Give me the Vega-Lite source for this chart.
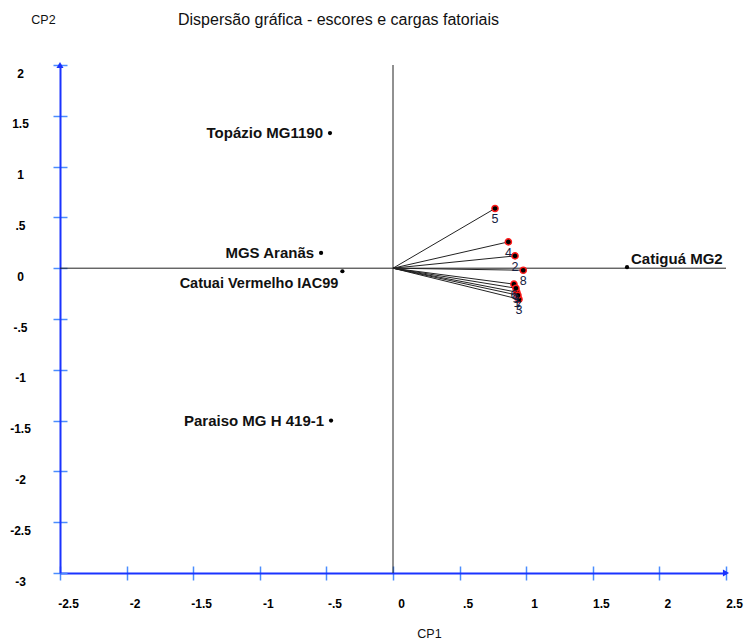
{
  "$schema": "https://vega.github.io/schema/vega-lite/v6.json",
  "width": 666,
  "height": 508,
  "autosize": {"type": "none"},
  "padding": {"left": 60, "top": 65, "right": 21, "bottom": 71},
  "background": "white",
  "config": {"view": {"stroke": null}, "font": "Liberation Sans"},
  "title": {
    "text": "Dispersão gráfica - escores e cargas fatoriais",
    "anchor": "start",
    "frame": "group",
    "dx": 118,
    "dy": 15,
    "offset": 0,
    "fontSize": 16,
    "fontWeight": "normal",
    "font": "Liberation Sans",
    "color": "#111111"
  },
  "datasets": {
    "scores": [
      {"name": "Topázio MG1190", "cp1": -0.473, "cp2": 1.33},
      {"name": "MGS Aranãs", "cp1": -0.54, "cp2": 0.15},
      {"name": "Catuai Vermelho IAC99", "cp1": -0.38, "cp2": -0.03},
      {"name": "Paraiso MG H 419-1", "cp1": -0.465, "cp2": -1.5},
      {"name": "Catiguá MG2", "cp1": 1.757, "cp2": 0.01}
    ],
    "loadings": [
      {"var": "1", "cp1": 0.93, "cp2": -0.236},
      {"var": "2", "cp1": 0.916, "cp2": 0.121},
      {"var": "3", "cp1": 0.946, "cp2": -0.305},
      {"var": "4", "cp1": 0.866, "cp2": 0.259},
      {"var": "5", "cp1": 0.766, "cp2": 0.588},
      {"var": "6", "cp1": 0.908, "cp2": -0.157},
      {"var": "7", "cp1": 0.938, "cp2": -0.266},
      {"var": "8", "cp1": 0.978, "cp2": -0.02},
      {"var": "9", "cp1": 0.923, "cp2": -0.197}
    ]
  },
  "resolve": {"axis": {"x": "independent", "y": "independent"}},
  "layer": [
    {
      "data": {"values": [{"v": 0}]},
      "mark": {"type": "rule", "color": "#222222", "strokeWidth": 1},
      "encoding": {
        "y": {"field": "v", "type": "quantitative", "scale": {"domain": [-3, 2], "nice": false, "zero": false}, "axis": null}
      }
    },
    {
      "data": {"values": [{"v": 0}]},
      "mark": {"type": "rule", "color": "#222222", "strokeWidth": 1},
      "encoding": {
        "x": {"field": "v", "type": "quantitative", "scale": {"domain": [-2.5, 2.5], "nice": false, "zero": false}, "axis": null}
      }
    },
    {
      "data": {"name": "loadings"},
      "mark": {"type": "rule", "color": "#222222", "strokeWidth": 1},
      "encoding": {
        "x": {"field": "cp1", "type": "quantitative", "scale": {"domain": [-2.5, 2.5], "nice": false, "zero": false}, "axis": null},
        "y": {"field": "cp2", "type": "quantitative", "scale": {"domain": [-3, 2], "nice": false, "zero": false}, "axis": null},
        "x2": {"datum": 0},
        "y2": {"datum": 0}
      }
    },
    {
      "data": {"values": [{"x": 2.5, "y": -3}]},
      "mark": {"type": "point", "shape": "triangle-right", "filled": true, "color": "#1a33ff", "size": 50, "opacity": 1},
      "encoding": {
        "x": {"field": "x", "type": "quantitative", "scale": {"domain": [-2.5, 2.5], "nice": false, "zero": false}, "axis": null},
        "y": {"field": "y", "type": "quantitative", "scale": {"domain": [-3, 2], "nice": false, "zero": false}, "axis": null}
      }
    },
    {
      "data": {"values": [{"x": -2.5, "y": 2}]},
      "mark": {"type": "point", "shape": "triangle-up", "filled": true, "color": "#1a33ff", "size": 50, "opacity": 1},
      "encoding": {
        "x": {"field": "x", "type": "quantitative", "scale": {"domain": [-2.5, 2.5], "nice": false, "zero": false}, "axis": null},
        "y": {"field": "y", "type": "quantitative", "scale": {"domain": [-3, 2], "nice": false, "zero": false}, "axis": null}
      }
    },
    {
      "data": {"name": "loadings"},
      "mark": {"type": "point", "filled": true, "fill": "#000000", "stroke": "#ff1a1a", "strokeWidth": 1.5, "size": 38, "opacity": 1},
      "encoding": {
        "x": {"field": "cp1", "type": "quantitative", "scale": {"domain": [-2.5, 2.5], "nice": false, "zero": false},
          "axis": {"orient": "bottom", "values": [-2.5, -2, -1.5, -1, -0.5, 0, 0.5, 1, 1.5, 2, 2.5], "offset": -7, "domain": false, "labels": false, "ticks": true, "tickSize": 7, "tickColor": "#4a8cff", "tickWidth": 1.5, "grid": false, "title": null}},
        "y": {"field": "cp2", "type": "quantitative", "scale": {"domain": [-3, 2], "nice": false, "zero": false},
          "axis": {"orient": "left", "values": [2, 1.5, 1, 0.5, 0, -0.5, -1, -1.5, -2, -2.5, -3], "offset": -7, "domain": false, "labels": false, "ticks": true, "tickSize": 7, "tickColor": "#4a8cff", "tickWidth": 1.5, "grid": false, "title": null}}
      }
    },
    {
      "data": {"name": "loadings"},
      "mark": {"type": "text", "dy": 11, "fontSize": 12.5, "color": "#142040", "font": "Liberation Sans"},
      "encoding": {
        "x": {"field": "cp1", "type": "quantitative", "scale": {"domain": [-2.5, 2.5], "nice": false, "zero": false}, "axis": null},
        "y": {"field": "cp2", "type": "quantitative", "scale": {"domain": [-3, 2], "nice": false, "zero": false}, "axis": null},
        "text": {"field": "var"}
      }
    },
    {
      "data": {"name": "scores"},
      "mark": {"type": "circle", "color": "#000000", "size": 18, "opacity": 1},
      "encoding": {
        "x": {"field": "cp1", "type": "quantitative", "scale": {"domain": [-2.5, 2.5], "nice": false, "zero": false},
          "axis": {"orient": "bottom", "values": [-2.5, -2, -1.5, -1, -0.5, 0, 0.5, 1, 1.5, 2, 2.5],
            "labelExpr": "replace(replace(format(datum.value, '~g'), '−', '-'), '0.', '.')",
            "domainColor": "#1a33ff", "domainWidth": 2, "tickColor": "#4a8cff", "tickWidth": 1.5, "tickSize": 7,
            "labelAlign": "center", "labelBaseline": "middle", "labelPadding": 23, "labelOffset": 8,
            "labelFontSize": 12, "labelFontWeight": "bold", "labelColor": "#000000", "labelFont": "Liberation Sans",
            "labelOverlap": false, "labelFlush": false, "labelBound": false, "grid": false,
            "title": "CP1", "titleX": 369, "titleY": 60, "titleAlign": "center", "titleBaseline": "middle",
            "titleFontSize": 12.5, "titleFontWeight": "normal", "titleColor": "#111111", "titleFont": "Liberation Sans"}},
        "y": {"field": "cp2", "type": "quantitative", "scale": {"domain": [-3, 2], "nice": false, "zero": false},
          "axis": {"orient": "left", "values": [2, 1.5, 1, 0.5, 0, -0.5, -1, -1.5, -2, -2.5, -3],
            "labelExpr": "replace(replace(format(datum.value, '~g'), '−', '-'), '0.', '.')",
            "domainColor": "#1a33ff", "domainWidth": 2, "tickColor": "#4a8cff", "tickWidth": 1.5, "tickSize": 7,
            "labelAlign": "center", "labelBaseline": "middle", "labelPadding": 33, "labelOffset": 8,
            "labelFontSize": 12, "labelFontWeight": "bold", "labelColor": "#000000", "labelFont": "Liberation Sans",
            "labelOverlap": false, "labelFlush": false, "labelBound": false, "grid": false,
            "title": "CP2", "titleAngle": 0, "titleX": -17, "titleY": -46, "titleAlign": "center", "titleBaseline": "middle",
            "titleFontSize": 12.5, "titleFontWeight": "normal", "titleColor": "#111111", "titleFont": "Liberation Sans"}}
      }
    },
    {
      "data": {"name": "scores"},
      "transform": [{"filter": "datum.name !== 'Catuai Vermelho IAC99' && datum.name !== 'Catiguá MG2'"}],
      "mark": {"type": "text", "align": "right", "baseline": "middle", "dx": -7, "fontSize": 15, "fontWeight": "bold", "color": "#111111", "font": "Liberation Sans"},
      "encoding": {
        "x": {"field": "cp1", "type": "quantitative", "scale": {"domain": [-2.5, 2.5], "nice": false, "zero": false}, "axis": null},
        "y": {"field": "cp2", "type": "quantitative", "scale": {"domain": [-3, 2], "nice": false, "zero": false}, "axis": null},
        "text": {"field": "name"}
      }
    },
    {
      "data": {"name": "scores"},
      "transform": [{"filter": "datum.name === 'Catuai Vermelho IAC99'"}],
      "mark": {"type": "text", "align": "right", "baseline": "middle", "dx": -4, "dy": 13, "fontSize": 14.5, "fontWeight": "bold", "color": "#111111", "font": "Liberation Sans"},
      "encoding": {
        "x": {"field": "cp1", "type": "quantitative", "scale": {"domain": [-2.5, 2.5], "nice": false, "zero": false}, "axis": null},
        "y": {"field": "cp2", "type": "quantitative", "scale": {"domain": [-3, 2], "nice": false, "zero": false}, "axis": null},
        "text": {"field": "name"}
      }
    },
    {
      "data": {"name": "scores"},
      "transform": [{"filter": "datum.name === 'Catiguá MG2'"}],
      "mark": {"type": "text", "align": "left", "baseline": "middle", "dx": 4, "dy": -8, "fontSize": 15, "fontWeight": "bold", "color": "#111111", "font": "Liberation Sans"},
      "encoding": {
        "x": {"field": "cp1", "type": "quantitative", "scale": {"domain": [-2.5, 2.5], "nice": false, "zero": false}, "axis": null},
        "y": {"field": "cp2", "type": "quantitative", "scale": {"domain": [-3, 2], "nice": false, "zero": false}, "axis": null},
        "text": {"field": "name"}
      }
    }
  ]
}
